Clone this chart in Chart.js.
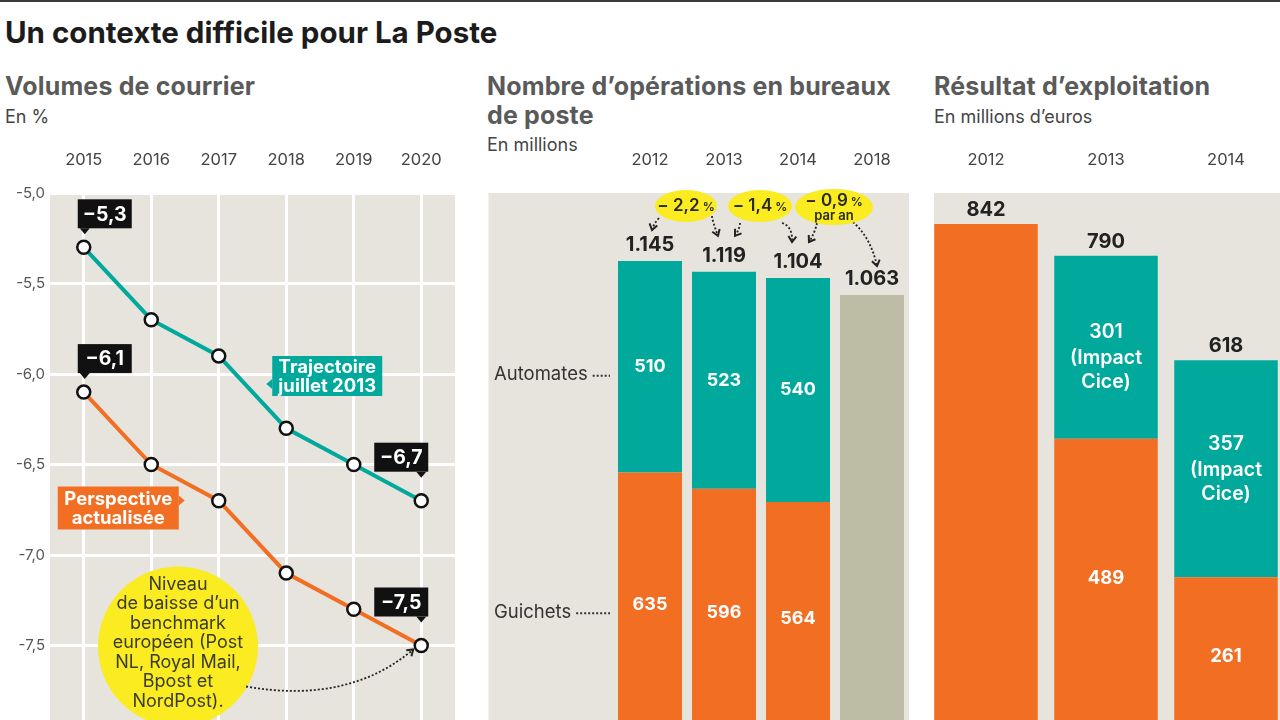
<!DOCTYPE html>
<html><head><meta charset="utf-8">
<script src="https://cdn.jsdelivr.net/npm/chart.js@4/dist/chart.umd.min.js"></script>
<style>
html,body{margin:0;padding:0;width:1280px;height:720px;overflow:hidden;background:#fff;font-family:Inter,"Open Sans",sans-serif;position:relative;}
.topline{position:absolute;left:0;top:0;width:1280px;height:2px;background:#3a3a3a;}
.title{position:absolute;left:5px;top:14px;font-size:29.5px;font-weight:700;color:#1c1c1c;white-space:nowrap;}
.ptitle{position:absolute;font-size:25px;font-weight:700;color:#5a5a5a;line-height:29px;letter-spacing:0.15px;white-space:nowrap;}
.sub{position:absolute;font-size:18px;color:#444;white-space:nowrap;}
canvas{position:absolute;}
</style></head>
<body>
<div class="topline"></div>
<div class="title">Un contexte difficile pour La Poste</div>
<div class="ptitle" style="left:5px;top:72px;">Volumes de courrier</div>
<div class="sub" style="left:5px;top:106px;">En %</div>
<div class="ptitle" style="left:487px;top:72px;">Nombre d’opérations en bureaux<br>de poste</div>
<div class="sub" style="left:487px;top:134px;">En millions</div>
<div class="ptitle" style="left:934px;top:72px;">Résultat d’exploitation</div>
<div class="sub" style="left:934px;top:106px;">En millions d’euros</div>

<canvas id="c1" width="455" height="616" style="left:0;top:120px;"></canvas>
<canvas id="c2" width="421" height="616" style="left:488px;top:120px;"></canvas>
<canvas id="c3" width="360" height="616" style="left:926px;top:120px;"></canvas>

<script>
// ---------- DATA ----------
const years1 = ['2015','2016','2017','2018','2019','2020'];
const trajectoire = [-5.3,-5.7,-5.9,-6.3,-6.5,-6.7];
const perspective = [-6.1,-6.5,-6.7,-7.1,-7.3,-7.5];

const years2 = ['2012','2013','2014','2018'];
const guichets = [635,596,564,null];
const automates = [510,523,540,null];
const prevision2018 = [null,null,null,1063];
const totals2 = ['1.145','1.119','1.104','1.063'];
const totals2Values = [1145,1119,1104,1063];
const variations = [['− 2,2','%',''],['− 1,4','%',''],['− 0,9','%','par an']];

const years3 = ['2012','2013','2014'];
const horsCice = [842,489,261];
const impactCice = [null,301,357];
const totals3 = [842,790,618];

// ---------- STYLE ----------
const TEAL='#00a99c', ORANGE='#f26e22', BG='#e6e4dd', KHAKI='#bdbca5', YELLOW='#fbec21';
const FONT='Inter, "Open Sans", sans-serif';
Chart.defaults.font.family=FONT;
Chart.defaults.devicePixelRatio=1;

function bgPlugin(leftFn){
  return {id:'bg',beforeDraw(ch){
    const a=ch.chartArea,c=ch.ctx;
    const l=leftFn?leftFn(ch):a.left;
    c.save();c.fillStyle=BG;c.fillRect(l,a.top,a.right-l,a.bottom-a.top);c.restore();
  }};
}
function dottedArrow(c,x0,y0,cx,cy,x1,y1){
  c.save();
  c.strokeStyle='#222';c.lineWidth=1.8;c.setLineDash([2,2]);
  c.beginPath();c.moveTo(x0,y0);c.quadraticCurveTo(cx,cy,x1,y1);c.stroke();
  c.setLineDash([]);
  const ang=Math.atan2(y1-cy,x1-cx);
  c.lineWidth=2;c.beginPath();
  c.moveTo(x1-7*Math.cos(ang-0.6),y1-7*Math.sin(ang-0.6));
  c.lineTo(x1,y1);
  c.lineTo(x1-7*Math.cos(ang+0.6),y1-7*Math.sin(ang+0.6));
  c.stroke();c.restore();
}
function callout(c,x,y,w,h,color,side,p,lines,fs){
  c.save();c.fillStyle=color;c.fillRect(x,y,w,h);
  c.beginPath();
  if(side==='bottom'){c.moveTo(p-5,y+h);c.lineTo(p,y+h+6);c.lineTo(p+5,y+h);}
  if(side==='left'){c.moveTo(x,p-5);c.lineTo(x-6,p);c.lineTo(x,p+5);}
  if(side==='right'){c.moveTo(x+w,p-5);c.lineTo(x+w+6,p);c.lineTo(x+w,p+5);}
  c.fill();
  c.fillStyle='#fff';c.font='700 '+fs+'px '+FONT;c.textAlign='center';c.textBaseline='middle';
  const lh=fs*1.0;
  const y0=y+h/2-(lines.length-1)*lh/2;
  lines.forEach((t,i)=>c.fillText(t,x+w/2,y0+i*lh+1));
  c.restore();
}
const noPad=s=>{s.paddingLeft=0;s.paddingRight=0;s.paddingTop=0;s.paddingBottom=0;};
const xTop = (pad)=>({position:'top',grid:{display:false,drawTicks:false},border:{display:false},
  ticks:{color:'#444',font:{size:16.5},padding:pad},afterFit:s=>{s.height=73;noPad(s);}});

// ---------- CHART 1 ----------
const ann1={id:'ann1',afterDraw(ch){
  const c=ch.ctx,x=ch.scales.x,y=ch.scales.y;
  const fmt=v=>'−'+Math.abs(v).toFixed(1).replace('.',',');
  [[trajectoire,0,'l'],[perspective,0,'l'],[trajectoire,5,'r'],[perspective,5,'r']].forEach(([s,i,side])=>{
    const px=x.getPixelForValue(i),py=y.getPixelForValue(s[i]);
    const w=54,h=29;
    if(side==='l'){const by=py-19-h;callout(c,px-6,by,w,h,'#111','bottom',px+1,[fmt(s[i])],19.5);}
    else{const by=py-29-h;callout(c,px+7-w,by,w,h,'#111','bottom',px,[fmt(s[i])],19.5);}
  });
  callout(c,x.getPixelForValue(3)-14,y.getPixelForValue(-6.0)-18,110,40,TEAL,'left',y.getPixelForValue(-6.0)+10,['Trajectoire','juillet 2013'],18.5);
  callout(c,x.getPixelForValue(0)-26,y.getPixelForValue(-6.5)+22,121,43,ORANGE,'right',y.getPixelForValue(-6.5)+36,['Perspective','actualisée'],18.5);
  const cx=(x.getPixelForValue(1)+x.getPixelForValue(2))/2-7, cy=y.getPixelForValue(-7.5)+1;
  c.save();c.fillStyle=YELLOW;c.beginPath();c.arc(cx,cy,80,0,Math.PI*2);c.fill();
  c.fillStyle='#3b3b2b';c.font='400 18px '+FONT;c.textAlign='center';c.textBaseline='middle';
  ['Niveau','de baisse d’un','benchmark','européen (Post','NL, Royal Mail,','Bpost et','NordPost).'].forEach((t,i)=>c.fillText(t,cx,cy-62+i*19.5));
  c.restore();
  const ex=x.getPixelForValue(5)-8, ey=y.getPixelForValue(-7.5)+4;
  dottedArrow(c,cx+68,cy+40,cx+170,cy+58,ex,ey);
}};
new Chart(document.getElementById('c1'),{
  type:'line',
  data:{labels:years1,datasets:[
    {data:trajectoire,borderColor:TEAL,borderWidth:4,pointRadius:6.5,pointBackgroundColor:'#fff',pointBorderColor:'#111',pointBorderWidth:2.5},
    {data:perspective,borderColor:ORANGE,borderWidth:4,pointRadius:6.5,pointBackgroundColor:'#fff',pointBorderColor:'#111',pointBorderWidth:2.5}
  ]},
  options:{responsive:false,animation:false,layout:{padding:0,autoPadding:false},
    plugins:{legend:{display:false},tooltip:{enabled:false}},
    scales:{
      x:{position:'top',offset:true,grid:{color:'#fff',lineWidth:3,drawTicks:false,offset:false},border:{display:false},
         ticks:{color:'#444',font:{size:16.5},padding:23},afterFit:s=>{s.height=73;noPad(s);}},
      y:{min:-8,max:-5,grid:{color:'#fff',lineWidth:3,drawTicks:false},border:{display:false},
         ticks:{stepSize:0.5,color:'#555',font:{size:15},padding:5,callback:v=>v.toFixed(1).replace('.',',')},
         afterFit:s=>{s.width=50;noPad(s);}}
    }},
  plugins:[bgPlugin(),ann1]
});

// ---------- CHART 2 ----------
const ann2={id:'ann2',afterDraw(ch){
  const c=ch.ctx,y=ch.scales.y,a=ch.chartArea;
  const mG=ch.getDatasetMeta(0),mA=ch.getDatasetMeta(1),mT=ch.getDatasetMeta(2);
  const X=i=>(guichets[i]!==null?mG.data[i].x:mT.data[i].x);
  c.save();c.textAlign='center';c.textBaseline='middle';
  years2.forEach((yr,i)=>{
    c.fillStyle='#222';c.font='700 20px '+FONT;
    c.fillText(totals2[i],X(i),y.getPixelForValue(totals2Values[i])-16);
    if(guichets[i]!==null){
      c.fillStyle='#fff';c.font='700 18px '+FONT;
      const g=mG.data[i],t=mA.data[i];
      c.fillText(String(guichets[i]),g.x,(g.y+g.base)/2);
      c.fillText(String(automates[i]),t.x,(t.y+t.base)/2);
    }
  });
  c.textAlign='left';c.fillStyle='#333';c.font='400 18.5px '+FONT;
  const rows=[['Automates',(mA.data[0].y+mA.data[0].base)/2+8],['Guichets',(mG.data[0].y+mG.data[0].base)/2+8]];
  rows.forEach(([t,yy])=>{
    c.fillText(t,6,yy);
    const w=c.measureText(t).width;
    c.save();c.strokeStyle='#333';c.lineWidth=2;c.setLineDash([2,2]);
    c.beginPath();c.moveTo(6+w+5,yy+1);c.lineTo(a.left-3,yy+1);c.stroke();c.restore();
  });
  const LY=i=>y.getPixelForValue(totals2Values[i])-16;
  const rx=[31,32,39];
  variations.forEach((v,i)=>{
    const cx=(X(i)+X(i+1))/2-1, cy=a.top+13+(i===2?1:0);
    const ry=i===2?18:16;
    const sl=i===0?[-27,12]:(i===1?[-20,17]:[-17,16]);
    const sr=i===0?[26,10]:(i===1?[22,17]:[19,15]);
    const tl=i===0?[X(i)+2,LY(i)-15]:[X(i)+11,LY(i)-20];
    const tr=i===2?[X(i+1)+5,LY(i+1)-13]:[X(i+1)-6,LY(i+1)-20];
    dottedArrow(c,cx+sl[0],cy+sl[1],(cx+sl[0]+tl[0])/2+(i===0?-2:2),(cy+sl[1]+tl[1])/2,tl[0],tl[1]);
    dottedArrow(c,cx+sr[0],cy+sr[1],(cx+sr[0]+tr[0])/2+(i===0?-3:6),(cy+sr[1]+tr[1])/2-6,tr[0],tr[1]);
    c.fillStyle=YELLOW;c.beginPath();c.ellipse(cx,cy,rx[i],ry,0,0,Math.PI*2);c.fill();
    c.fillStyle='#2a2a1a';c.textBaseline='middle';
    c.font='600 17px '+FONT;
    const w1=c.measureText(v[0]).width;
    c.font='600 12px '+FONT;
    const w2=c.measureText(' '+v[1]).width;
    const ty=v[2]?cy-6:cy;
    c.textAlign='left';
    c.font='600 17px '+FONT;c.fillText(v[0],cx-(w1+w2)/2,ty);
    c.font='600 12px '+FONT;c.fillText(' '+v[1],cx-(w1+w2)/2+w1,ty+1);
    if(v[2]){c.textAlign='center';c.font='600 13px '+FONT;c.fillText(v[2],cx,cy+9);}
  });
  c.restore();
}};
new Chart(document.getElementById('c2'),{
  type:'bar',
  data:{labels:years2,datasets:[
    {data:guichets,backgroundColor:ORANGE,stack:'s'},
    {data:automates,backgroundColor:TEAL,stack:'s'},
    {data:prevision2018,backgroundColor:KHAKI,stack:'s'}
  ]},
  options:{responsive:false,animation:false,layout:{padding:{left:125}},
    datasets:{bar:{categoryPercentage:1,barPercentage:0.865,borderWidth:0}},
    plugins:{legend:{display:false},tooltip:{enabled:false}},
    scales:{x:Object.assign(xTop(23),{stacked:true}),
      y:{display:false,stacked:true,min:0,max:1309}}},
  plugins:[bgPlugin(ch=>0.5),ann2]
});

// ---------- CHART 3 ----------
const ann3={id:'ann3',afterDraw(ch){
  const c=ch.ctx,y=ch.scales.y;
  const mO=ch.getDatasetMeta(0),mC=ch.getDatasetMeta(1);
  c.save();c.textAlign='center';c.textBaseline='middle';
  years3.forEach((yr,i)=>{
    const o=mO.data[i];
    c.fillStyle='#222';c.font='700 20px '+FONT;
    c.fillText(String(totals3[i]),o.x,y.getPixelForValue(totals3[i])-14);
    if(impactCice[i]!==null){
      c.fillStyle='#fff';c.font='700 18.5px '+FONT;
      c.fillText(String(horsCice[i]),o.x,(o.y+o.base)/2-(i===1?9:0));
      const t=mC.data[i];const cy=(t.y+t.base)/2+(i===1?11:1);
      c.font='600 19.5px '+FONT;
      c.fillText(String(impactCice[i]),t.x,cy-26);
      c.fillText('(Impact',t.x,cy);
      c.fillText('Cice)',t.x,cy+24);
    }
  });
  c.restore();
}};
new Chart(document.getElementById('c3'),{
  type:'bar',
  data:{labels:years3,datasets:[
    {data:horsCice,backgroundColor:ORANGE,stack:'s'},
    {data:impactCice,backgroundColor:TEAL,stack:'s'}
  ]},
  options:{responsive:false,animation:false,layout:{padding:0},
    datasets:{bar:{categoryPercentage:1,barPercentage:0.8625,borderWidth:0}},
    plugins:{legend:{display:false},tooltip:{enabled:false}},
    scales:{x:Object.assign(xTop(23),{stacked:true}),
      y:{display:false,stacked:true,min:0,max:893}}},
  plugins:[bgPlugin(ch=>8),ann3]
});
</script>
</body></html>
